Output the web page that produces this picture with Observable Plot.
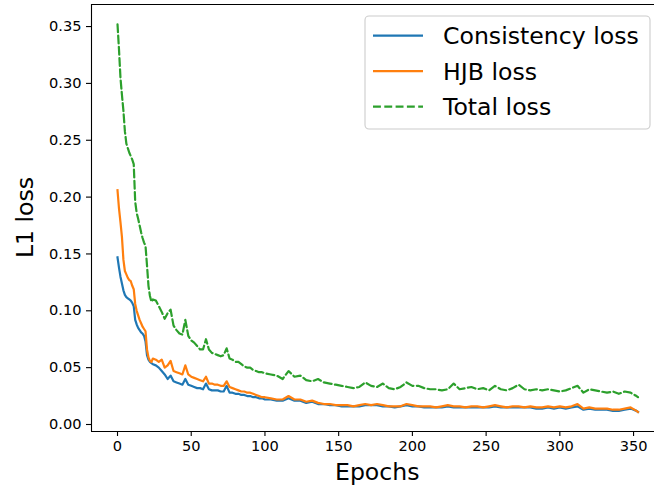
<!DOCTYPE html>
<html>
<head>
<meta charset="utf-8">
<script src="https://cdn.jsdelivr.net/npm/d3@7"></script>
<script src="https://cdn.jsdelivr.net/npm/@observablehq/plot@0.6"></script>
<style>
  html, body { margin: 0; padding: 0; background: #ffffff; }
  #chart svg { display: block; }
</style>
</head>
<body>
<div id="chart"></div>
<script>
// ---- data ----
const epochs = [
  0,1,2,3,4,5,6,7,8,9,10,11,12,13,14,15,16,17,18,19,20,21,22,23,24,
  26,28,30,32,34,36,38,40,42,44,46,48,50,52,54,56,58,60,62,64,66,68,70,72,74,76,78,80,82,84,86,88,90,92,94,96,98,100,
  104,108,112,116,120,124,128,132,136,140,144,148,152,156,160,164,168,172,176,180,184,188,192,196,200,
  204,208,212,216,220,224,228,232,236,240,244,248,252,256,260,264,268,272,276,280,284,288,292,296,300,
  304,308,312,316,320,324,328,332,336,340,344,348,352,353
];
const consistencyLoss = [
  .147,.138,.130,.124,.118,.114,.112,.111,.110,.109,.107,.104,.092,.088,.085,.083,.081,.080,.078,.073,.061,.057,.055,.054,.053,
  .052,.050,.047,.044,.040,.043,.038,.037,.036,.035,.040,.035,.034,.033,.032,.032,.031,.036,.031,.030,.030,.030,.029,.029,.034,.028,.028,.027,.027,.026,.026,.025,.025,.024,.024,.023,.023,.022,
  .022,.021,.021,.023,.021,.021,.019,.020,.018,.018,.017,.017,.016,.016,.016,.016,.017,.017,.017,.016,.016,.015,.016,.017,.016,
  .016,.015,.015,.015,.015,.016,.015,.015,.015,.015,.015,.015,.015,.016,.015,.015,.015,.015,.015,.015,.014,.014,.015,.014,.015,
  .014,.015,.016,.013,.014,.013,.013,.013,.012,.012,.013,.014,.012,.011
];
const hjbLoss = [
  .206,.190,.178,.165,.145,.135,.132,.129,.127,.126,.122,.119,.106,.100,.096,.092,.089,.086,.084,.082,.066,.059,.056,.055,.058,
  .057,.055,.057,.050,.052,.056,.047,.046,.045,.044,.052,.044,.042,.041,.040,.039,.038,.042,.036,.036,.035,.035,.034,.034,.038,.033,.032,.031,.030,.029,.029,.028,.028,.027,.026,.025,.024,.024,
  .023,.022,.022,.025,.022,.022,.020,.021,.019,.018,.018,.017,.017,.017,.016,.017,.018,.017,.018,.017,.016,.016,.016,.018,.017,
  .016,.016,.016,.015,.016,.017,.016,.016,.015,.016,.016,.015,.016,.017,.016,.015,.016,.016,.015,.016,.015,.015,.016,.015,.016,
  .015,.016,.018,.014,.015,.014,.014,.014,.013,.013,.014,.015,.012,.011
];
const totalLoss = [
  .352,.330,.305,.290,.276,.258,.247,.243,.239,.236,.233,.229,.196,.186,.181,.175,.169,.164,.160,.157,.140,.122,.113,.108,.110,
  .109,.104,.099,.093,.098,.101,.087,.083,.080,.079,.092,.078,.074,.072,.069,.066,.066,.075,.066,.063,.062,.061,.060,.061,.067,.058,.057,.055,.055,.053,.051,.050,.050,.048,.047,.046,.046,.045,
  .044,.043,.040,.047,.042,.043,.039,.038,.040,.037,.036,.035,.034,.033,.032,.033,.037,.034,.033,.036,.032,.031,.033,.037,.034,
  .034,.032,.031,.031,.030,.031,.036,.031,.032,.033,.031,.032,.030,.034,.031,.030,.032,.035,.031,.030,.031,.030,.031,.030,.029,
  .030,.032,.034,.028,.031,.030,.029,.028,.029,.027,.029,.028,.025,.024
];
const seriesNames = ["Consistency loss", "HJB loss", "Total loss"];
const seriesColors = ["#1f77b4", "#ff7f0e", "#2ca02c"];
const xTicks = [0, 50, 100, 150, 200, 250, 300, 350];
const yTicks = [0, 0.05, 0.10, 0.15, 0.20, 0.25, 0.30, 0.35];
const xLabel = "Epochs";
const yLabel = "L1 loss";

// ---- build tables ----
const tableOf = (vals) => epochs.map((e, i) => ({epoch: e, loss: vals[i]}));
const tables = [tableOf(consistencyLoss), tableOf(hjbLoss), tableOf(totalLoss)];

const xDomain = [-17.64, 364.2];
const yDomain = [-0.00616, 0.3694];
const W = 654, H = 489;
const mL = 91, mR = 0, mT = 4, mB = 58;
const tickFont = 14.6;
const bigFont = 23.6;

const chart = Plot.plot({
  width: W, height: H,
  marginLeft: mL, marginRight: mR, marginTop: mT, marginBottom: mB,
  style: {fontFamily: "'DejaVu Sans', sans-serif", background: "#ffffff", color: "#000000", overflow: "visible"},
  x: {domain: xDomain, axis: null},
  y: {domain: yDomain, axis: null},
  marks: [
    Plot.axisX({ticks: xTicks, tickSize: 5, tickPadding: 4.5, fontSize: tickFont, label: null, strokeWidth: 1.1, tickFormat: d3.format("d")}),
    Plot.axisY({ticks: yTicks, tickSize: 5, tickPadding: 5, fontSize: tickFont, label: null, strokeWidth: 1.1, tickFormat: d3.format(".2f")}),
    Plot.line(tables[0], {x: "epoch", y: "loss", stroke: seriesColors[0], strokeWidth: 2.2, strokeLinejoin: "round", strokeLinecap: "square"}),
    Plot.line(tables[1], {x: "epoch", y: "loss", stroke: seriesColors[1], strokeWidth: 2.2, strokeLinejoin: "round", strokeLinecap: "square"}),
    Plot.line(tables[2], {x: "epoch", y: "loss", stroke: seriesColors[2], strokeWidth: 2.2, strokeLinejoin: "round", strokeDasharray: "7.9,3.4"}),
    Plot.ruleX([xDomain[0]], {stroke: "#000", strokeWidth: 1.1}),
    Plot.ruleY([yDomain[0]], {stroke: "#000", strokeWidth: 1.1}),
    Plot.ruleY([yDomain[1]], {stroke: "#000", strokeWidth: 1.1})
  ]
});

document.getElementById("chart").appendChild(chart);

// ---- axis labels and legend (decorations) ----
const svg = d3.select(chart);
const xs = chart.scale("x");
const axesLeft = mL, axesBottom = H - mB, axesTop = mT;
const axesRightFull = xs.apply(370.65);

svg.append("text")
  .attr("x", (axesLeft + axesRightFull) / 2).attr("y", 480)
  .attr("text-anchor", "middle").attr("font-size", bigFont)
  .attr("font-family", "'DejaVu Sans', sans-serif").attr("fill", "#000")
  .text(xLabel);

svg.append("text")
  .attr("transform", `translate(33,${(axesTop + axesBottom) / 2}) rotate(-90)`)
  .attr("text-anchor", "middle").attr("font-size", bigFont)
  .attr("font-family", "'DejaVu Sans', sans-serif").attr("fill", "#000")
  .text(yLabel);

const lg = svg.append("g");
lg.append("rect")
  .attr("x", 365).attr("y", 16).attr("width", 285).attr("height", 113)
  .attr("rx", 4).attr("ry", 4)
  .attr("fill", "#ffffff").attr("fill-opacity", 0.8)
  .attr("stroke", "#cccccc").attr("stroke-width", 1.1);
seriesNames.forEach((name, i) => {
  const yy = 35.7 + i * 35.5;
  lg.append("line")
    .attr("x1", 373).attr("x2", 423).attr("y1", yy).attr("y2", yy)
    .attr("stroke", seriesColors[i]).attr("stroke-width", 2.2)
    .attr("stroke-dasharray", i === 2 ? "7.9,3.4" : null);
  lg.append("text")
    .attr("x", 443).attr("y", yy).attr("dy", "0.365em")
    .attr("text-anchor", "start")
    .attr("font-size", bigFont).attr("font-family", "'DejaVu Sans', sans-serif")
    .attr("fill", "#000").text(name);
});
</script>
</body>
</html>
